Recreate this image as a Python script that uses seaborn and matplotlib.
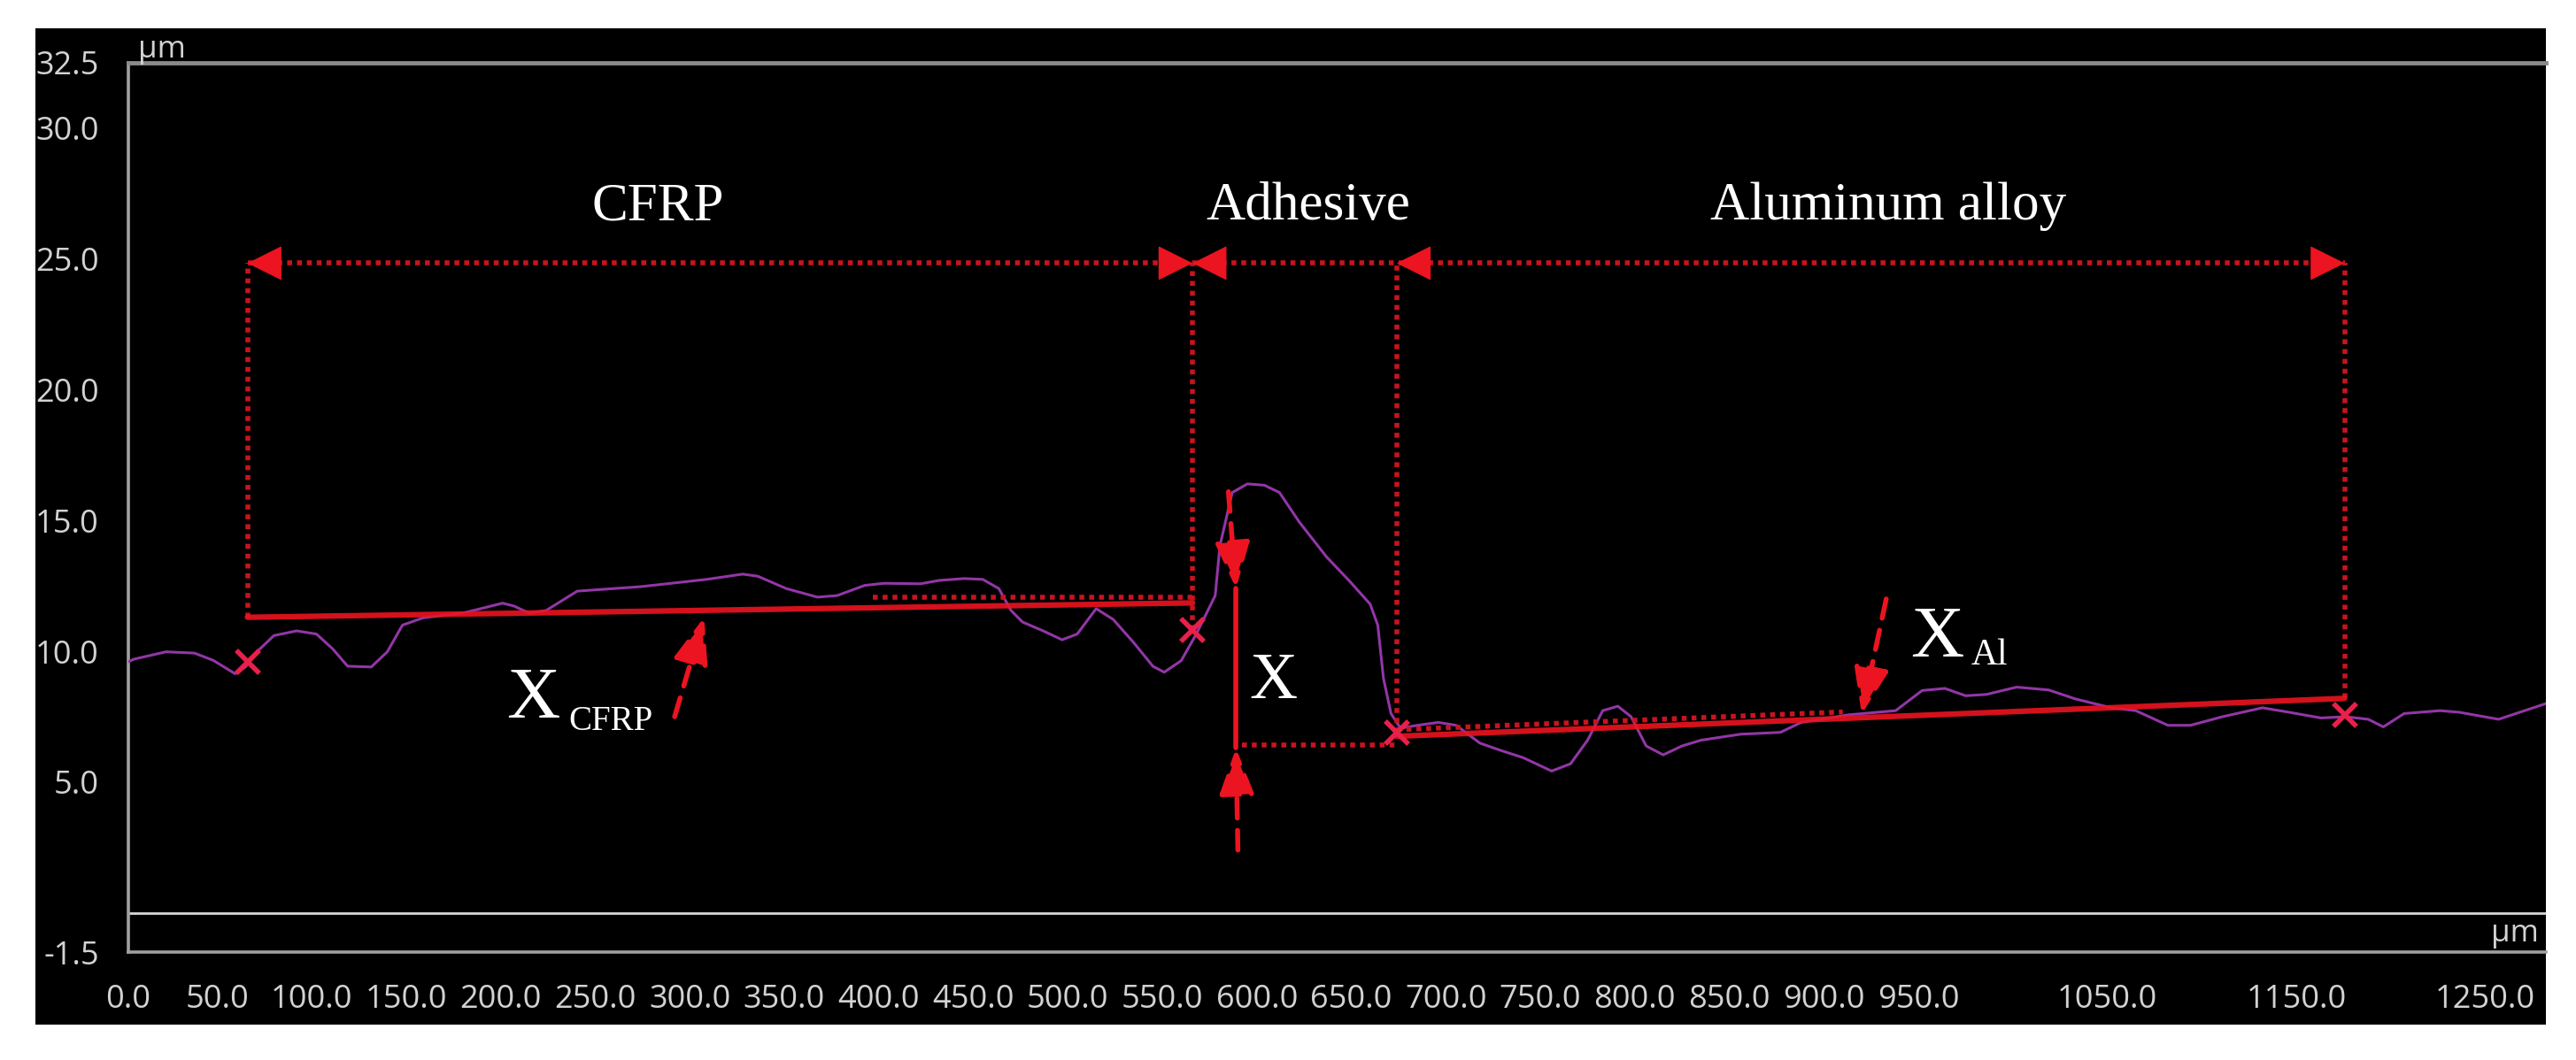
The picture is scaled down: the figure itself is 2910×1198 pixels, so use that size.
import pandas as pd
import seaborn as sns
import matplotlib.pyplot as plt
from matplotlib.patches import Rectangle

# surface profile (um)
profile_x = [3, 6, 23, 38, 48, 59.5, 65, 71, 80, 92, 102.5, 111, 119, 131.5, 140, 148, 159, 180,
             201, 207, 215, 224, 240.5, 274, 309, 328, 336, 351, 367.5, 378, 392.6, 403, 422, 432,
             445, 455, 463.5, 470, 476, 487, 497, 505, 515, 524, 535, 545, 551, 560, 568, 578,
             580.5, 587, 595, 604, 612, 622.5, 637, 649, 660, 664, 667, 671, 676, 685, 696, 705.5,
             718, 729, 741, 756, 766, 775, 783, 791, 798, 806, 815, 825, 835, 856, 877, 888, 913,
             938, 952, 964, 975, 986, 1002, 1019, 1033, 1052, 1065, 1082, 1094, 1111, 1132, 1146,
             1163, 1176, 1188, 1196, 1207, 1226, 1236, 1257, 1282]
profile_y = [9.6, 9.7, 9.98, 9.93, 9.65, 9.14, 9.4, 9.98, 10.6, 10.78, 10.66, 10.1, 9.43, 9.4, 9.98,
             11.0, 11.28, 11.46, 11.84, 11.73, 11.46, 11.56, 12.3, 12.47, 12.75, 12.95, 12.87, 12.4,
             12.07, 12.13, 12.52, 12.6, 12.58, 12.71, 12.78, 12.75, 12.4, 11.56, 11.12, 10.78, 10.44,
             10.66, 11.63, 11.22, 10.32, 9.43, 9.2, 9.64, 10.66, 12.13, 14.04, 16.07, 16.4, 16.35,
             16.07, 14.94, 13.6, 12.69, 11.8, 11.0, 8.97, 7.62, 7.06, 7.17, 7.28, 7.17, 6.49, 6.21,
             5.93, 5.42, 5.7, 6.6, 7.73, 7.9, 7.5, 6.38, 6.04, 6.38, 6.6, 6.83, 6.9, 7.28, 7.57, 7.73,
             8.5, 8.58, 8.3, 8.35, 8.63, 8.52, 8.18, 7.84, 7.73, 7.17, 7.17, 7.5, 7.84, 7.67, 7.45,
             7.5, 7.4, 7.11, 7.62, 7.73, 7.67, 7.4, 8.0]

# the instrument puts its "0.0" tick at the start of the axis
xticks = [3, 50, 100, 150, 200, 250, 300, 350, 400, 450, 500, 550, 600, 650, 700, 750, 800,
          850, 900, 950, 1050, 1150, 1250]
xtick_labels = ['0.0'] + [f'{v:.1f}' for v in xticks[1:]]
yticks = [-1.5, 5, 10, 15, 20, 25, 30, 32.5]

# region boundaries (x) and the reference levels
cfrp_start, cfrp_end, al_start, al_end = 66, 566, 674, 1175.5
top_level = 24.84
cfrp_line = [(66, 11.3), (566, 11.85)]
al_line = [(674, 6.75), (1175.5, 8.2)]
markers_x = [66, 566, 674, 1175.5]
markers_y = [9.6, 10.8, 6.9, 7.55]
region_names = ['CFRP', 'Adhesive', 'Aluminum alloy']
region_centers = [283, 627, 934]

RED = '#ec1420'
DOT_RED = '#c8141e'
PURPLE = '#9236a6'
GREY = '#a0a0a0'
LABEL = '#d2d2d2'

sns.set_style('dark')
plt.rcParams['font.family'] = ['Open Sans', 'DejaVu Sans']
serif = ['Liberation Serif', 'DejaVu Serif']

W, H = 2910, 1198
fig = plt.figure(figsize=(W / 100, H / 100), dpi=100, facecolor='white')
fig.patches.append(Rectangle((40 / W, 1 - 1158 / H), (2876 - 40) / W, (1158 - 32) / H,
                             transform=fig.transFigure, facecolor='black', edgecolor='none', zorder=-10))
ax = fig.add_axes([145 / W, 1 - 1076 / H, (2876 - 145) / W, (1076 - 71) / H])
ax.set_facecolor('black')

df = pd.DataFrame({'x': profile_x, 'y': profile_y})
sns.lineplot(data=df, x='x', y='y', ax=ax, color=PURPLE, lw=2.2, sort=False, zorder=3)

ax.set_xlim(3, 1282)
ax.set_ylim(-1.5, 32.5)
ax.set_xticks(xticks)
ax.set_xticklabels(xtick_labels)
ax.set_yticks(yticks)
ax.set_yticklabels([f'{v:.1f}' for v in yticks])
ax.set_xlabel('')
ax.set_ylabel('')
ax.grid(False)
ax.tick_params(axis='both', colors=GREY, labelcolor=LABEL, labelsize=26, length=14, width=2.6, pad=10)
ax.tick_params(axis='x', pad=12)
for s in ['left', 'bottom']:
    ax.spines[s].set_color(GREY)
    ax.spines[s].set_linewidth(2.6)
ax.spines['top'].set_color('#8a8a8a')
ax.spines['top'].set_linewidth(3.5)
ax.spines['right'].set_visible(False)
ax.axhline(0, color='#d8d8d8', lw=2, zorder=1)

ax.text(0.004, 1.006, 'µm', transform=ax.transAxes, color=LABEL, fontsize=25, ha='left', va='baseline')
ax.text(0.997, 0.012, 'µm', transform=ax.transAxes, color=LABEL, fontsize=25, ha='right', va='baseline')

dot = dict(color=DOT_RED, lw=4, linestyle=(0, (1, 1)), zorder=4)

# dotted frame of each region
ax.plot([cfrp_start, al_end], [top_level, top_level], **dot)
ax.plot([cfrp_start, cfrp_start], [cfrp_line[0][1], top_level], **dot)
ax.plot([cfrp_end, cfrp_end], [markers_y[1], top_level], **dot)
ax.plot([al_start, al_start], [markers_y[2], top_level], **dot)
ax.plot([al_end, al_end], [al_line[1][1], top_level], **dot)
ax.plot([397, cfrp_end], [12.05, 12.05], **dot)
ax.plot([al_start, 910], [7.0, 7.68], **dot)
ax.plot([592, al_start], [6.4, 6.4], **dot)


def head(tip, direction):
    ax.annotate('', xy=tip, xytext=(tip[0] - 12 * direction, tip[1]),
                arrowprops=dict(arrowstyle='-|>,head_length=1.3,head_width=0.65', color=RED,
                                lw=1, shrinkA=0, shrinkB=0, mutation_scale=20), zorder=5)


head((cfrp_start, top_level), -1)
head((cfrp_end, top_level), 1)
head((cfrp_end, top_level), -1)
head((al_start, top_level), -1)
head((al_end, top_level), 1)

# fitted reference lines
ax.plot([p[0] for p in cfrp_line], [p[1] for p in cfrp_line], color=RED, lw=4.5, alpha=0.9, zorder=4)
ax.plot([p[0] for p in al_line], [p[1] for p in al_line], color=RED, lw=4.5, alpha=0.9, zorder=4)
ax.plot([589, 589], [12.4, 6.3], color=RED, lw=4, zorder=4)

ax.plot(markers_x, markers_y, linestyle='none', marker='x', ms=19, mew=4, color='#e8204a', zorder=6)


def dashed_arrow(start, tip):
    ax.annotate('', xy=tip, xytext=start,
                arrowprops=dict(arrowstyle='-|>,head_length=1.6,head_width=0.6', color=RED,
                                lw=4, linestyle=(0, (4, 2.5)), shrinkA=0, shrinkB=0,
                                mutation_scale=20), zorder=5)


dashed_arrow((292, 7.5), (307.6, 11.3))
dashed_arrow((933, 12.0), (920, 7.6))
dashed_arrow((585, 16.1), (589, 12.4))
dashed_arrow((590, 2.4), (589, 6.3))

for name, cx in zip(region_names, region_centers):
    ax.text(cx, 26.5, name, ha='center', va='baseline', color='white', fontsize=44, family=serif)

ax.text(203, 7.47, 'X', ha='left', va='baseline', color='white', fontsize=60, family=serif)
ax.text(236, 7.0, 'CFRP', ha='left', va='baseline', color='white', fontsize=28, family=serif)
ax.text(596, 8.2, 'X', ha='left', va='baseline', color='white', fontsize=54, family=serif)
ax.text(946, 9.8, 'X', ha='left', va='baseline', color='white', fontsize=60, family=serif)
ax.text(978, 9.5, 'Al', ha='left', va='baseline', color='white', fontsize=30, family=serif)

fig.savefig('out.png', dpi=100, facecolor='white')
